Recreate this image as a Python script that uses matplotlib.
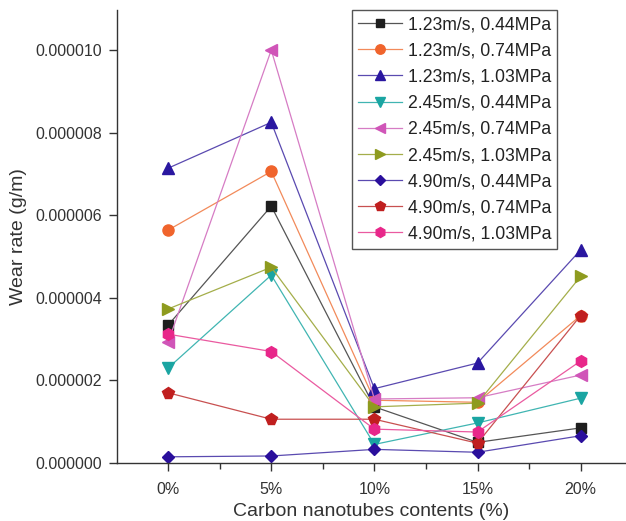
import numpy as np
import matplotlib
matplotlib.use("Agg")
import matplotlib.pyplot as plt
from matplotlib.ticker import FormatStrFormatter, MultipleLocator

plt.rcParams['font.family'] = ['Liberation Sans', 'DejaVu Sans']

contents = [0, 5, 10, 15, 20]
tick_labels = ["0%", "5%", "10%", "15%", "20%"]

labels = ["1.23m/s, 0.44MPa", "1.23m/s, 0.74MPa", "1.23m/s, 1.03MPa",
          "2.45m/s, 0.44MPa", "2.45m/s, 0.74MPa", "2.45m/s, 1.03MPa",
          "4.90m/s, 0.44MPa", "4.90m/s, 0.74MPa", "4.90m/s, 1.03MPa"]

# wear rate in 1e-6 g/m
v123_044 = [3.34, 6.22, 1.36, 0.50, 0.85]
v123_074 = [5.64, 7.06, 1.52, 1.47, 3.57]
v123_103 = [7.14, 8.25, 1.80, 2.42, 5.16]
v245_044 = [2.30, 4.55, 0.45, 0.97, 1.57]
v245_074 = [2.93, 10.0, 1.55, 1.58, 2.13]
v245_103 = [3.73, 4.74, 1.36, 1.45, 4.52]
v490_044 = [0.15, 0.17, 0.33, 0.26, 0.66]
v490_074 = [1.70, 1.06, 1.06, 0.48, 3.57]
v490_103 = [3.12, 2.70, 0.82, 0.75, 2.47]

series = [v123_044, v123_074, v123_103, v245_044, v245_074,
          v245_103, v490_044, v490_074, v490_103]
colors = ["#1e1e1e", "#f0642c", "#2a17a0", "#1aa5a2", "#d055b8",
          "#8e9b1f", "#2a0f9c", "#c01f1f", "#e8278a"]
line_colors = ["#555555", "#f28a5a", "#5a4ab0", "#40b5b2", "#d67cc4",
               "#a4ae4a", "#5a4ab0", "#c85050", "#ea5aa0"]
markers = ["s", "o", "^", "v", "<", ">", "D", "p", "h"]
msizes = [7, 8, 8, 8, 8, 8, 6.5, 8.5, 8.5]

fig = plt.figure(figsize=(6.26, 5.21), dpi=100)
ax = fig.add_axes([117/626, 58/521, 1 - 117/626, 453/521])

for vals, lab, c, lc, m, ms in zip(series, labels, colors, line_colors, markers, msizes):
    ax.plot(contents, np.array(vals) * 1e-6, color=lc, lw=0.9, marker=m,
            markersize=ms, markerfacecolor=c, markeredgecolor=c, label=lab)

ax.set_xlim(-2.48, 22.2)
ax.set_ylim(0, 1.097e-5)
ax.set_xticks(contents)
ax.set_xticklabels(tick_labels)
ax.xaxis.set_minor_locator(MultipleLocator(2.5))
ax.set_yticks(np.arange(0, 1.1e-5, 2e-6))
ax.yaxis.set_major_formatter(FormatStrFormatter('%.6f'))

for s in ["top", "right"]:
    ax.spines[s].set_visible(False)
for s in ["left", "bottom"]:
    ax.spines[s].set_color("#333333")
    ax.spines[s].set_linewidth(1.0)

ax.tick_params(axis="both", which="major", direction="out", length=6,
               width=1, colors="#333333", labelcolor="#333333", labelsize=11.5, pad=5)
ax.tick_params(axis="x", which="minor", direction="out", length=4, width=1, colors="#333333")
ax.tick_params(axis="x", pad=8)

ax.set_xlabel("Carbon nanotubes contents (%)", fontsize=14, color="#333333", labelpad=4)
ax.set_ylabel("Wear rate (g/m)", fontsize=14, color="#333333", labelpad=6)

leg = ax.legend(loc="upper left", bbox_to_anchor=(352/626, 1 - 10/521),
                bbox_transform=fig.transFigure, borderaxespad=0,
                fontsize=12.7, handlelength=2.5, handletextpad=0.3,
                labelspacing=0.52, borderpad=0.35, fancybox=False,
                edgecolor="#555555", framealpha=1, markerscale=0.85)
leg.get_frame().set_linewidth(1.0)
for t in leg.get_texts():
    t.set_color("#222222")

fig.savefig("out.png", dpi=100)
